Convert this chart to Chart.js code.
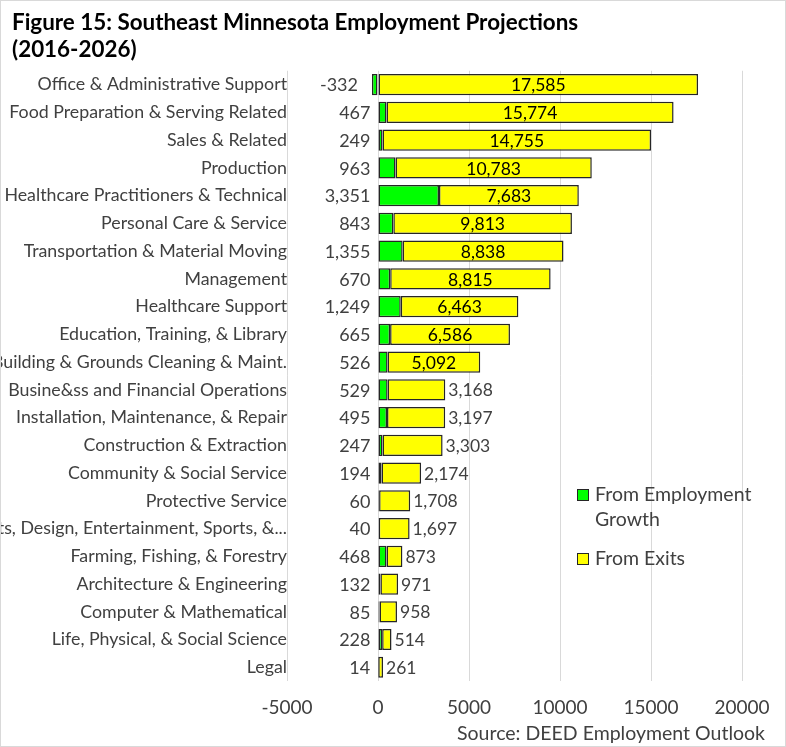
<!DOCTYPE html>
<html>
<head>
<meta charset="utf-8">
<script src="https://cdn.jsdelivr.net/npm/chart.js@4.4.1/dist/chart.umd.min.js"></script>
<style>
  html, body { margin: 0; padding: 0; background: #fff; }
  #wrap { position: relative; width: 786px; height: 747px; box-sizing: border-box; border: 1px solid #d9d9d9; }
</style>
</head>
<body>
<div id="wrap"><canvas id="myChart"></canvas></div>
<script>
const categories = [
  "Office & Administrative Support",
  "Food Preparation & Serving Related",
  "Sales & Related",
  "Production",
  "Healthcare Practitioners & Technical",
  "Personal Care & Service",
  "Transportation & Material Moving",
  "Management",
  "Healthcare Support",
  "Education, Training, & Library",
  "Building & Grounds Cleaning & Maint.",
  "Busine&ss and Financial Operations",
  "Installation, Maintenance, & Repair",
  "Construction & Extraction",
  "Community & Social Service",
  "Protective Service",
  "Arts, Design, Entertainment, Sports, &...",
  "Farming, Fishing, & Forestry",
  "Architecture & Engineering",
  "Computer & Mathematical",
  "Life, Physical, & Social Science",
  "Legal",
]
const growth = [-332, 467, 249, 963, 3351, 843, 1355, 670, 1249, 665, 526, 529, 495, 247, 194, 60, 40, 468, 132, 85, 228, 14]
const exits = [17585, 15774, 14755, 10783, 7683, 9813, 8838, 8815, 6463, 6586, 5092, 3168, 3197, 3303, 2174, 1708, 1697, 873, 971, 958, 514, 261]
const xTicks = [-5000, 0, 5000, 10000, 15000, 20000]

const FONT = "Lato, 'Noto Sans', sans-serif"
const TEXT = "#404040"
const fmt = v => v.toLocaleString("en-US")

// value labels: growth left of the bar, exits inside or after the bar
const valueLabels = {
  id: "valueLabels",
  afterLayout(chart) {
    // let long category names run to the canvas edge instead of being clipped at the padding
    chart.scales.y.left = 0
  },
  afterDatasetsDraw(chart) {
    const ctx = chart.ctx
    const g = chart.getDatasetMeta(0).data
    const e = chart.getDatasetMeta(1).data
    ctx.save()
    ctx.textBaseline = "middle"
    ctx.font = "18px " + FONT
    ctx.fillStyle = TEXT
    g.forEach((bar, i) => {
      const left = Math.min(bar.x, bar.base)
      ctx.textAlign = "right"
      ctx.fillText(fmt(growth[i]), left - (growth[i] < 0 ? 14 : 8), bar.y + 1)
    })
    ctx.font = "17.5px " + FONT
    e.forEach((bar, i) => {
      if (exits[i] >= 4000) {
        ctx.textAlign = "center"
        ctx.fillStyle = "#000"
        ctx.fillText(fmt(exits[i]), (bar.x + bar.base) / 2, bar.y + 1)
      } else {
        ctx.textAlign = "left"
        ctx.fillStyle = TEXT
        ctx.fillText(fmt(exits[i]), bar.x + 3, bar.y + 1)
      }
    })
    ctx.restore()
  },
}

// legend inside the plot, plus the source note
const sideLegend = {
  id: "sideLegend",
  afterDraw(chart) {
    const ctx = chart.ctx
    const x0 = chart.chartArea.right - 165
    let y = 494
    ctx.save()
    ctx.font = "19.5px " + FONT
    ctx.textBaseline = "middle"
    ctx.textAlign = "left"
    chart.data.datasets.forEach(ds => {
      ctx.fillStyle = ds.backgroundColor
      ctx.fillRect(x0, y - 6, 12, 12)
      ctx.strokeStyle = "#262626"
      ctx.lineWidth = 1
      ctx.strokeRect(x0 + 0.5, y - 5.5, 11, 11)
      // wrap the label
      const words = ds.label.split(" ")
      let line = ""
      const lines = []
      words.forEach(w => {
        const t = line ? line + " " + w : w
        if (ctx.measureText(t).width > 175 && line) { lines.push(line); line = w } else line = t
      })
      lines.push(line)
      ctx.fillStyle = TEXT
      lines.forEach((l, k) => ctx.fillText(l, x0 + 18, y + k * 25))
      y += lines.length * 25 + 14
    })
    ctx.font = "19.5px " + FONT
    ctx.textAlign = "right"
    ctx.fillText("Source: DEED Employment Outlook", chart.width - 20, 733)
    ctx.restore()
  },
}

new Chart(document.getElementById("myChart"), {
  type: "bar",
  data: {
    labels: categories,
    datasets: [
      {
        label: "From Employment Growth",
        data: growth,
        backgroundColor: "#00ff00",
        borderColor: "#262626",
        borderWidth: 1.5,
        borderSkipped: false,
      },
      {
        label: "From Exits",
        data: exits,
        backgroundColor: "#ffff00",
        borderColor: "#262626",
        borderWidth: 1.5,
        borderSkipped: false,
      },
    ],
  },
  options: {
    indexAxis: "y",
    responsive: true,
    maintainAspectRatio: false,
    animation: false,
    categoryPercentage: 1,
    barPercentage: 0.76,
    layout: {
      padding: { left: 11, right: 43, top: 0, bottom: 12 },
    },
    plugins: {
      legend: { display: false },
      tooltip: { enabled: false },
      title: {
        display: true,
        align: "start",
        text: ["Figure 15: Southeast Minnesota Employment Projections", "(2016-2026)"],
        color: "#000",
        font: { family: FONT, size: 22.4, weight: "bold", lineHeight: 1.2 },
        padding: { top: 8, bottom: 8 },
      },
    },
    scales: {
      x: {
        stacked: true,
        min: -5000,
        max: 20000,
        afterBuildTicks: scale => { scale.ticks = xTicks.map(v => ({ value: v })) },
        grid: { color: "#d9d9d9", drawTicks: false },
        border: { display: false },
        ticks: {
          color: TEXT,
          padding: 15,
          font: { family: FONT, size: 19 },
          callback: v => String(v),
        },
      },
      y: {
        stacked: true,
        grid: { display: false, drawTicks: false },
        border: { display: false },
        afterFit: scale => { scale.width = 275 },
        ticks: {
          color: TEXT,
          padding: 0,
          autoSkip: false,
          font: { family: FONT, size: 17.8 },
        },
      },
    },
  },
  plugins: [valueLabels, sideLegend],
})
</script>
</body>
</html>
